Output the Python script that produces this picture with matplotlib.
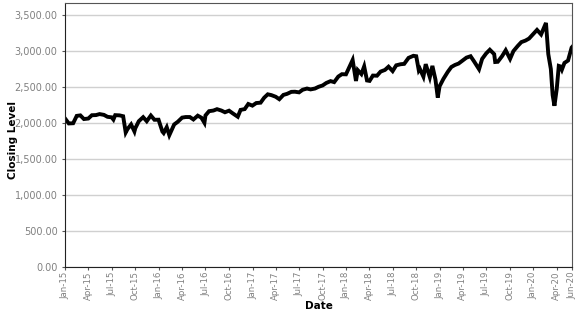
import pandas as pd
import matplotlib
matplotlib.use("Agg")
import matplotlib.pyplot as plt
import matplotlib.dates as mdates
from matplotlib.ticker import FuncFormatter

# closing levels (approximate)
dates = [
    "2015-01-01", "2015-01-15", "2015-02-01", "2015-02-15", "2015-03-01", "2015-03-15",
    "2015-04-01", "2015-04-15", "2015-05-01", "2015-05-15", "2015-06-01", "2015-06-15",
    "2015-07-01", "2015-07-08", "2015-07-15", "2015-08-01", "2015-08-15", "2015-08-25",
    "2015-09-01", "2015-09-15", "2015-09-28", "2015-10-01", "2015-10-15", "2015-11-01",
    "2015-11-15", "2015-12-01", "2015-12-15", "2015-12-31",
    "2016-01-15", "2016-01-20", "2016-02-01", "2016-02-11", "2016-03-01", "2016-03-15",
    "2016-04-01", "2016-04-15", "2016-05-01", "2016-05-15", "2016-06-01", "2016-06-15",
    "2016-06-27", "2016-07-01", "2016-07-15", "2016-08-01", "2016-08-15", "2016-09-01",
    "2016-09-15", "2016-10-01", "2016-10-15", "2016-11-04", "2016-11-15", "2016-12-01",
    "2016-12-15", "2016-12-31",
    "2017-01-15", "2017-02-01", "2017-02-15", "2017-03-01", "2017-03-15", "2017-04-01",
    "2017-04-15", "2017-05-01", "2017-05-15", "2017-06-01", "2017-06-15", "2017-07-01",
    "2017-07-15", "2017-08-01", "2017-08-15", "2017-09-01", "2017-09-15", "2017-10-01",
    "2017-10-15", "2017-11-01", "2017-11-15", "2017-12-01", "2017-12-15", "2017-12-31",
    "2018-01-15", "2018-01-26", "2018-02-08", "2018-02-15", "2018-03-01", "2018-03-12",
    "2018-03-23", "2018-04-02", "2018-04-15", "2018-05-01", "2018-05-15", "2018-06-01",
    "2018-06-15", "2018-07-01", "2018-07-15", "2018-08-01", "2018-08-15", "2018-09-01",
    "2018-09-20", "2018-10-01", "2018-10-11", "2018-10-15", "2018-10-29", "2018-11-07",
    "2018-11-23", "2018-12-03", "2018-12-15", "2018-12-24", "2018-12-31",
    "2019-01-15", "2019-02-01", "2019-02-15", "2019-03-01", "2019-03-15", "2019-04-01",
    "2019-04-15", "2019-05-01", "2019-05-15", "2019-06-03", "2019-06-15", "2019-07-01",
    "2019-07-15", "2019-08-01", "2019-08-05", "2019-08-15", "2019-09-01", "2019-09-15",
    "2019-10-02", "2019-10-15", "2019-11-01", "2019-11-15", "2019-12-01", "2019-12-15",
    "2019-12-31",
    "2020-01-15", "2020-01-31", "2020-02-19", "2020-02-28", "2020-03-09", "2020-03-16",
    "2020-03-23", "2020-04-01", "2020-04-09", "2020-04-15", "2020-04-21", "2020-05-01",
    "2020-05-15", "2020-05-29", "2020-06-01",
]
closing = [
    2058, 1992, 1995, 2097, 2104, 2053,
    2060, 2106, 2108, 2122, 2111, 2084,
    2077, 2046, 2107, 2104, 2092, 1867,
    1914, 1978, 1881, 1923, 2023, 2079,
    2023, 2102, 2043, 2044,
    1880, 1859, 1940, 1829, 1978, 2015,
    2073, 2081, 2081, 2047, 2100, 2072,
    2001, 2103, 2162, 2171, 2190, 2171,
    2147, 2169, 2133, 2085, 2180, 2191,
    2262, 2239,
    2275, 2280, 2349, 2396, 2385, 2362,
    2328, 2388, 2402, 2430, 2432, 2423,
    2459, 2476, 2464, 2476, 2500, 2519,
    2553, 2579, 2565, 2642, 2675, 2673,
    2786, 2872, 2581, 2731, 2677, 2783,
    2588, 2582, 2656, 2654, 2711, 2734,
    2779, 2718, 2798, 2813, 2818, 2901,
    2930, 2924, 2728, 2750, 2641, 2814,
    2633, 2790, 2600, 2351, 2507,
    2610, 2707, 2775, 2803, 2822, 2867,
    2905, 2924, 2850, 2744, 2887, 2964,
    3014, 2953, 2844, 2847, 2926, 3007,
    2887, 2995, 3067, 3120, 3141, 3169,
    3231,
    3289, 3226, 3386, 2954, 2747, 2386,
    2237, 2471, 2790, 2783, 2737, 2831,
    2864, 3044, 3056,
]

df = pd.DataFrame({"date": pd.to_datetime(dates), "close": closing})

# quarterly ticks plus the final Jun-20
xticks = list(pd.date_range("2015-01-01", "2020-04-01", freq="QS")) + [pd.Timestamp("2020-06-01")]

fig = plt.figure(figsize=(5.77, 3.15), dpi=100)
ax = fig.add_axes([0.113, 0.152, 0.879, 0.838])

ax.plot(df["date"], df["close"], color="black", linewidth=2.8, solid_joinstyle="miter")

ax.set_ylim(0, 3660)
ax.set_xlim(pd.Timestamp("2015-01-01"), pd.Timestamp("2020-06-01"))
ax.set_yticks(range(0, 3501, 500))
ax.yaxis.set_major_formatter(FuncFormatter(lambda v, p: f"{v:,.2f}"))

ax.set_xticks(xticks)
ax.xaxis.set_major_formatter(mdates.DateFormatter("%b-%y"))

ax.grid(axis="y", color="#d0d0d0", linewidth=1)
ax.set_axisbelow(True)
for s in ax.spines.values():
    s.set_color("#555555")
ax.spines["left"].set_color("#222222")
ax.spines["bottom"].set_color("#222222")

ax.tick_params(axis="y", labelsize=7, labelcolor="#808080", length=2, color="#555555")
ax.tick_params(axis="x", labelsize=6.2, labelcolor="#808080", length=2, color="#555555",
               rotation=90, pad=1)

ax.set_xlabel("Date", fontsize=7.5, fontweight="bold")
ax.set_ylabel("Closing Level", fontsize=7.5, fontweight="bold")
ax.xaxis.set_label_coords(0.5, -0.128)
ax.yaxis.set_label_coords(-0.094, 0.48)

fig.savefig("out.png", dpi=100)
